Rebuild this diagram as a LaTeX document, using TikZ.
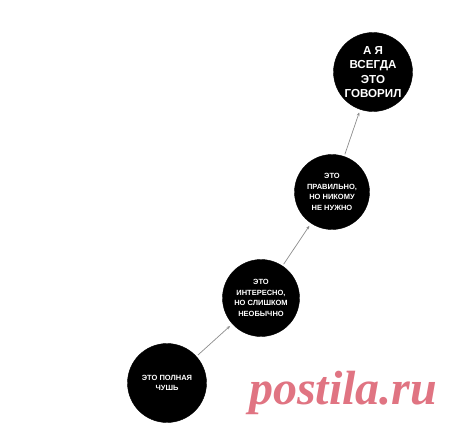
\documentclass[tikz,border=0pt]{standalone}
\usepackage{fontspec}
\setmainfont{Liberation Sans}
\newfontfamily\wmfont{Liberation Serif}
\usetikzlibrary{arrows.meta}
\definecolor{wmpink}{HTML}{E07482}
\definecolor{linegray}{HTML}{8C8C8C}
\tikzset{
  blob/.style={circle, fill=black, draw=black, minimum size=#1, inner sep=0pt, text=white, align=center, font=\bfseries\fontsize{7.5}{10.5}\selectfont},
  bigtext/.style={font=\bfseries\fontsize{11.6}{14.6}\selectfont},
  link/.style={draw=linegray, line width=0.7pt, -{Stealth[length=3.5pt,width=3pt]}, shorten <=2pt, shorten >=3pt}
}
\begin{document}
\begin{tikzpicture}[x=1pt,y=-1pt]
\useasboundingbox (0,0) rectangle (460,432);
\node[blob=79pt] (c1) at (167,383) {ЭТО ПОЛНАЯ\\ЧУШЬ};
\node[blob=77pt] (c2) at (261,298) {ЭТО\\ИНТЕРЕСНО,\\НО СЛИШКОМ\\НЕОБЫЧНО};
\node[blob=75pt] (c3) at (332,192) {ЭТО\\ПРАВИЛЬНО,\\НО НИКОМУ\\НЕ НУЖНО};
\node[blob=79pt, bigtext] (c4) at (373,72) {А Я\\ВСЕГДА\\ЭТО\\ГОВОРИЛ};
\draw[link] (c1) -- (c2);
\draw[link] (c2) -- (c3);
\draw[link] (c3) -- (c4);
\node[text=wmpink, font=\wmfont\bfseries\itshape\fontsize{48}{48}\selectfont, anchor=base west, inner sep=0pt] (wm) at (249,404) {postila.ru};
\end{tikzpicture}
\end{document}
